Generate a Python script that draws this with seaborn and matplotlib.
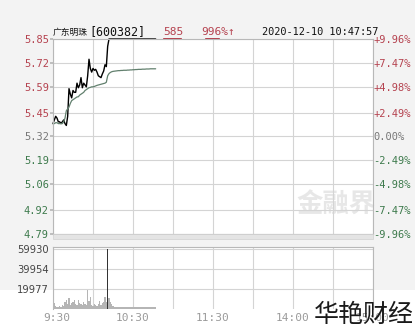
import matplotlib
matplotlib.use("Agg")
import matplotlib.pyplot as plt
import seaborn as sns
import pandas as pd
from matplotlib.patches import Rectangle

sns.set_theme(style="white")
plt.rcParams['font.family'] = ['DejaVu Sans', 'Noto Sans CJK SC']

# ---------------- data ----------------
stock_name = "广东明珠"
stock_code = "[600382]"
last_price_text = "585"
change_text = "996%↑"
timestamp = "2020-12-10 10:47:57"

minutes = list(range(78))
price = [5.39, 5.41, 5.43, 5.42, 5.40, 5.40, 5.39, 5.40, 5.41, 5.39,
         5.38, 5.43, 5.58, 5.55, 5.53, 5.57, 5.56, 5.56, 5.61, 5.585,
         5.60, 5.64, 5.585, 5.61, 5.60, 5.59, 5.65, 5.74, 5.69, 5.67,
         5.69, 5.68, 5.685, 5.67, 5.65, 5.645, 5.64, 5.66, 5.676, 5.71,
         5.70, 5.81, 5.85, 5.85, 5.85, 5.85, 5.85, 5.85, 5.85, 5.85,
         5.85, 5.85, 5.85, 5.85, 5.85, 5.85, 5.85, 5.85, 5.85, 5.85,
         5.85, 5.85, 5.85, 5.85, 5.85, 5.85, 5.85, 5.85, 5.85, 5.85,
         5.85, 5.85, 5.85, 5.85, 5.85, 5.85, 5.85, 5.85]
avg_price = [5.39, 5.39, 5.395, 5.395, 5.39, 5.39, 5.39, 5.39, 5.40, 5.42,
             5.46, 5.47, 5.48, 5.50, 5.515, 5.52, 5.525, 5.53, 5.535, 5.536,
             5.545, 5.55, 5.555, 5.56, 5.57, 5.575, 5.58, 5.585, 5.587, 5.59,
             5.59, 5.592, 5.595, 5.598, 5.60, 5.602, 5.604, 5.606, 5.608, 5.61,
             5.615, 5.65, 5.662, 5.668, 5.672, 5.674, 5.675, 5.676, 5.677, 5.678,
             5.678, 5.679, 5.679, 5.68, 5.68, 5.68, 5.681, 5.681, 5.682, 5.682,
             5.683, 5.683, 5.684, 5.684, 5.685, 5.685, 5.685, 5.686, 5.686, 5.686,
             5.687, 5.687, 5.687, 5.688, 5.688, 5.688, 5.688, 5.688]
volume = [5000, 6000, 3000, 2000, 2000, 3000, 2000, 4000, 3000, 7000,
          9000, 5000, 11000, 4000, 6000, 7000, 9000, 5000, 4000, 9000,
          6000, 5000, 4000, 7000, 5000, 4000, 19000, 8000, 12000, 4000,
          3000, 5000, 4000, 3000, 5000, 8000, 4000, 6000, 7000, 12000,
          7000, 59930, 11000, 7000, 5000, 3000, 2000, 2000, 2000, 1500,
          2000, 2000, 1500, 2000, 2000, 1500, 2000, 2000, 2000, 1500,
          2000, 2000, 1500, 2000, 2000, 2000, 1500, 2000, 2000, 1500,
          2000, 2000, 1500, 2000, 2000, 1500, 2000, 2000]

price_ticks = [4.79, 4.92, 5.06, 5.19, 5.32, 5.45, 5.59, 5.72, 5.85]
pct_labels = ["-9.96%", "-7.47%", "-4.98%", "-2.49%", "0.00%",
              "+2.49%", "+4.98%", "+7.47%", "+9.96%"]
vol_ticks = [19977, 39954, 59930]
time_ticks = [0, 60, 120, 180, 240]
time_labels = ["9:30", "10:30", "11:30", "14:00", "15:00"]

df = pd.DataFrame({"minute": minutes, "price": price, "avg": avg_price, "volume": volume})

# ---------------- layout ----------------
W, H = 415, 330
fig = plt.figure(figsize=(W / 100, H / 100), dpi=100, facecolor="#f3f3f3")

def fx(px):
    return px / W

def fy(py):
    return 1 - py / H

# white band at bottom
fig.add_artist(Rectangle((0, 0), 1, 40 / H, transform=fig.transFigure,
                         facecolor="white", edgecolor="none", zorder=-5))

RED = "#b5424f"
GREEN = "#3d7a4c"
GREY = "#777777"
GRID = "#d4d4d4"
SPINE = "#b8b8b8"
mono = "DejaVu Sans Mono"

ax = fig.add_axes([fx(53), fy(234), fx(320), 195 / H], facecolor="white")
sns.lineplot(data=df, x="minute", y="price", ax=ax, color="black", lw=1.0)
sns.lineplot(data=df, x="minute", y="avg", ax=ax, color="#62806e", lw=0.9)
for ln in ax.lines:
    ln.set_clip_on(False)
ax.set_xlim(0, 240)
ax.set_ylim(price_ticks[0], price_ticks[-1])
ax.set_xticks(range(0, 241, 30))
ax.set_xticklabels([])
ax.set_yticks(price_ticks)
ax.set_yticklabels([f"{v:.2f}" for v in price_ticks], family=mono, fontsize=7.5)
for lab, v in zip(ax.get_yticklabels(), price_ticks):
    lab.set_color(RED if v > 5.33 else (GREY if abs(v - 5.32) < 0.005 else GREEN))
ax.grid(True, color=GRID, lw=0.8)
ax.tick_params(axis="y", length=2, pad=1, color=SPINE)
ax.tick_params(axis="x", length=0)
ax.set_xlabel("")
ax.set_ylabel("")
for s in ax.spines.values():
    s.set_color(SPINE)
    s.set_linewidth(0.8)

# right percent axis
ax2 = ax.twinx()
ax2.set_ylim(ax.get_ylim())
ax2.set_yticks(price_ticks)
ax2.set_yticklabels(pct_labels, family=mono, fontsize=7.5)
for lab, t in zip(ax2.get_yticklabels(), pct_labels):
    lab.set_color(RED if t.startswith("+") else (GREEN if t.startswith("-") else GREY))
ax2.tick_params(axis="y", length=0, pad=0)
ax2.grid(False)
for s in ax2.spines.values():
    s.set_visible(False)

# watermark in main panel
ax.text(0.885, 0.15, "金融界", transform=ax.transAxes, ha="center", va="center",
        fontsize=19, fontweight="bold", color="#e2e2e2", alpha=0.8,
        family=["Noto Sans CJK SC"], zorder=0)

# gap band
fig.add_artist(Rectangle((fx(53), fy(239)), fx(320), 5 / H, transform=fig.transFigure,
                         facecolor="#e4e4e4", edgecolor="#d0d0d0", lw=0.5, zorder=1))

# volume panel
axv = fig.add_axes([fx(53), fy(309), fx(320), 62 / H], facecolor="white")
bar_colors = ["#333333" if v > 50000 else "#b5b5b5" for v in volume]
axv.bar(df["minute"], df["volume"], width=0.8, color=bar_colors, linewidth=0)
axv.set_xlim(0, 240)
axv.set_ylim(0, 61930)
axv.set_yticks(vol_ticks)
axv.set_yticklabels([str(v) for v in vol_ticks], fontsize=7.2, color="#444444")
axv.set_xticks(range(0, 241, 30))
axv.set_xticklabels([])
axv.grid(True, color=GRID, lw=0.8)
axv.tick_params(axis="y", length=2, pad=1, color=SPINE)
axv.tick_params(axis="x", length=0)
for s in axv.spines.values():
    s.set_color(SPINE)
    s.set_linewidth(0.8)
axv.spines["bottom"].set_visible(False)

# time labels
for t, lab in zip(time_ticks, time_labels):
    xx = 53 + t * 320 / 240
    if t == 0:
        xx += 4
    fig.text(fx(xx), fy(318), lab, ha="center", va="center", fontsize=8,
             color="#9a9a9a", family=mono)

# header
fig.text(fx(53), fy(32), stock_name, ha="left", va="center", fontsize=6.3,
         color="#111111", family=["Noto Sans CJK SC"])
fig.text(fx(89), fy(32), stock_code, ha="left", va="center", fontsize=8.4,
         color="#111111", family=mono)
fig.text(fx(163), fy(32), last_price_text, ha="left", va="center", fontsize=8.0,
         color=RED, family=mono)
fig.add_artist(plt.Line2D([fx(163), fx(181)], [fy(37.5), fy(37.5)],
                          transform=fig.transFigure, color=RED, lw=0.7))
fig.text(fx(201), fy(32), change_text, ha="left", va="center", fontsize=8.0,
         color=RED, family=mono)
fig.add_artist(plt.Line2D([fx(205), fx(219)], [fy(37.5), fy(37.5)],
                          transform=fig.transFigure, color=RED, lw=0.7))
fig.text(fx(262), fy(32), timestamp, ha="left", va="center", fontsize=7.4,
         color="#111111", family=mono)

# bottom watermark
fig.text(fx(414), fy(315), "华艳财经", ha="right", va="center", fontsize=18,
         color="#1a1a1a", family=["Noto Sans CJK SC"], fontweight="light", zorder=10)

fig.savefig("out.png", dpi=100, facecolor=fig.get_facecolor())
